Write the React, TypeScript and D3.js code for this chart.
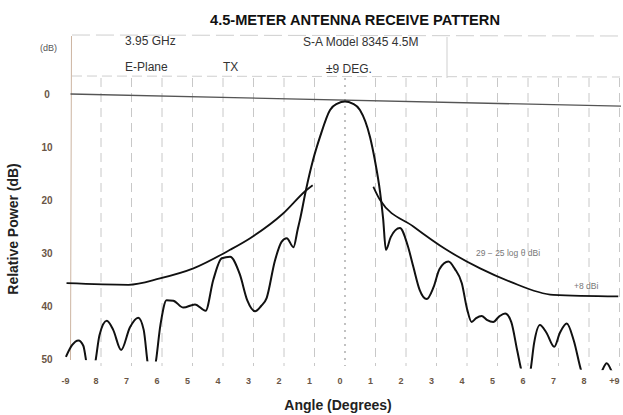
import React from "react";
import * as d3 from "d3";

const W = 623;
const H = 415;

// Angle ticks (degrees) and their printed labels
const angleTicks = [-9, -8, -7, -6, -5, -4, -3, -2, -1, 0, 1, 2, 3, 4, 5, 6, 7, 8, 9];
const angleLabels = ["-9", "8", "7", "6", "5", "4", "3", "2", "1", "0", "1", "2", "3", "4", "5", "6", "7", "8", "+9"];
const dbTicks = [0, 10, 20, 30, 40, 50];

// Measured antenna pattern (angle in degrees, relative power in dB down)
const patternAngle = [
  -9.15, -8.95, -8.74, -8.58, -8.45, -8.33, -8.2, -8.05, -7.81, -7.6, -7.34, -7.05, -6.78, -6.6, -6.45, -6.34,
  -6.23, -6.05, -5.85, -5.63, -5.3, -4.92, -4.57, -4.32, -4.04, -3.77, -3.45, -3.2, -2.95, -2.75, -2.57, -2.3,
  -2.08, -1.91, -1.69, -1.55, -1.48, -1.28, -1.05, -0.82, -0.49, -0.25, 0, 0.25, 0.49, 0.82, 0.98, 1.15, 1.25,
  1.34, 1.5, 1.8, 2.05, 2.24, 2.45, 2.68, 2.9, 3.1, 3.39, 3.6, 3.83, 4.0, 4.15, 4.3, 4.48, 4.65, 4.86, 5.05,
  5.25, 5.45, 5.65, 5.8, 5.94, 6.07, 6.2, 6.39, 6.6, 6.86, 7.05, 7.27, 7.5, 7.76, 8.0, 8.4, 8.58, 8.76, 8.9,
];
const patternDb = [
  49.6, 47.4, 46.5, 47.5, 51.5, 53, 51.0, 45.5, 42.8, 44.5, 48.3, 44.0, 42.2, 44.5, 51.5, 53,
  51.5, 43.5, 38.9, 39.0, 40.3, 39.7, 40.9, 35.1, 31.0, 30.7, 34.0, 39.0, 41.0, 40.0, 38.5, 31.5,
  27.9, 27.2, 28.9, 25.5, 23.8, 18.1, 12.5, 8.1, 3.0, 1.8, 1.4, 1.8, 3.0, 8.1, 12.5, 18.5, 23.5,
  29.4, 27.0, 25.3, 28.5, 32.6, 37.0, 38.7, 36.5, 33.0, 31.6, 33.0, 35.7, 40.5, 43.0, 42.3, 41.9, 42.6, 43.0, 42.0,
  41.4, 43.0, 48.5, 52.5, 54, 52.5, 47.0, 43.6, 45.0, 47.7, 45.0, 43.3, 46.5, 52.5, 55, 52.5, 50.8, 52.5, 54,
];

// Sidelobe envelope (29 - 25 log θ dBi)
const envLeftAngle = [-9.13, -7.1, -6.07, -4.97, -3.77, -3.11, -2.02, -1.28, -1.06];
const envLeftDb = [35.7, 36.0, 34.8, 32.9, 29.4, 27.2, 22.5, 18.2, 17.2];
const envRightAngle = [0.93, 1.15, 2.24, 3.33, 4.43, 5.41, 6.83, 8.96];
const envRightDb = [17.5, 20.0, 25.0, 29.4, 32.9, 35.4, 37.9, 38.2];

// 0 dB reference trace (slightly skewed on the chart paper)
const refAngle = [-9, 9.05];
const refDb = [0.0, 2.3];

const FONT = "'Liberation Sans', Arial, Helvetica, sans-serif";
const TICK_COLOR = "#6a5646";

export default function App() {
  const x = d3.scaleLinear().domain([-9, 9]).range([70.5, 619.5]);
  const y = d3.scaleLinear().domain([0, 50]).range([94, 359]);

  const line = d3
    .line<[number, number]>()
    .x((d) => x(d[0]))
    .y((d) => y(d[1]))
    .curve(d3.curveMonotoneX);
  const straight = d3
    .line<[number, number]>()
    .x((d) => x(d[0]))
    .y((d) => y(d[1]));

  const pattern = patternAngle.map((a, i) => [a, patternDb[i]] as [number, number]);
  const envL = envLeftAngle.map((a, i) => [a, envLeftDb[i]] as [number, number]);
  const envR = envRightAngle.map((a, i) => [a, envRightDb[i]] as [number, number]);
  const ref = refAngle.map((a, i) => [a, refDb[i]] as [number, number]);

  // slanted lower edge of the chart paper
  const clipPts = [
    [x(-9.5), y(-8)],
    [x(9.5), y(-8)],
    [x(9.5), y(52.2)],
    [x(-9.5), y(50.1)],
  ]
    .map((p) => p.join(","))
    .join(" ");

  return (
    <svg width={W} height={H} style={{ position: "absolute", left: 0, top: 0, background: "#fff" }}>
      <defs>
        <clipPath id="paper">
          <polygon points={clipPts} />
        </clipPath>
      </defs>

      {/* Title */}
      <text
        x={210}
        y={25}
        textLength={290}
        lengthAdjust="spacingAndGlyphs"
        fontFamily={FONT}
        fontWeight="bold"
        fontSize={14}
        fill="#111"
      >
        4.5-METER ANTENNA RECEIVE PATTERN
      </text>

      {/* header box lines */}
      <line x1={72} x2={622} y1={35} y2={36} stroke="#cfcfcf" strokeDasharray="18,6" strokeWidth={1} />
      <line x1={72} x2={620} y1={76} y2={77} stroke="#cfcfcf" strokeDasharray="10,5" strokeWidth={1} />
      <line x1={447} x2={447} y1={37} y2={78} stroke="#cfcfcf" strokeWidth={1} />

      {/* header texts */}
      <text x={40} y={51} fontFamily={FONT} fontSize={9} fill="#555">(dB)</text>
      <text x={125} y={45} fontFamily={FONT} fontSize={12} fill="#333">3.95 GHz</text>
      <text x={303} y={46} fontFamily={FONT} fontSize={12} fill="#333">S-A Model 8345 4.5M</text>
      <text x={125} y={71} fontFamily={FONT} fontSize={12} fill="#333">E-Plane</text>
      <text x={223} y={71} fontFamily={FONT} fontSize={12} fill="#333">TX</text>
      <text x={326} y={73} fontFamily={FONT} fontSize={12} fill="#333">±9 DEG.</text>

      {/* vertical grid */}
      {angleTicks.map((t) =>
        t === -9 ? null : (
          <line
            key={"g" + t}
            x1={x(t)}
            x2={x(t)}
            y1={78}
            y2={366}
            stroke={t === 0 ? "#999" : "#c8c8c8"}
            strokeWidth={t === 0 ? 1.2 : 1}
            strokeDasharray={t === 0 ? "2,5" : "9,6"}
          />
        )
      )}
      {/* left paper edge */}
      <line x1={x(-9) + 1} x2={x(-9)} y1={36} y2={360} stroke="#cdb5a2" strokeWidth={1} />

      {/* y tick labels */}
      {dbTicks.map((t) => (
        <text
          key={"y" + t}
          x={47}
          y={y(t)}
          dy="0.35em"
          textAnchor="middle"
          fontFamily={FONT}
          fontWeight="bold"
          fontSize={10}
          fill={TICK_COLOR}
        >
          {t}
        </text>
      ))}

      {/* x tick labels */}
      {angleTicks.map((t, i) => (
        <text
          key={"x" + t}
          x={x(t) - 5}
          y={384}
          textAnchor="middle"
          fontFamily={FONT}
          fontWeight="bold"
          fontSize={9}
          fill={TICK_COLOR}
        >
          {angleLabels[i]}
        </text>
      ))}

      {/* axis titles */}
      <text x={338} y={410} textAnchor="middle" fontFamily={FONT} fontWeight="bold" fontSize={14} fill="#222">
        Angle  (Degrees)
      </text>
      <text
        transform="translate(18,229) rotate(-90)"
        textAnchor="middle"
        fontFamily={FONT}
        fontWeight="bold"
        fontSize={14}
        fill="#222"
      >
        Relative Power (dB)
      </text>

      {/* reference line */}
      <path d={straight(ref) || ""} fill="none" stroke="#555" strokeWidth={1.3} />

      {/* envelope */}
      <path d={line(envL) || ""} fill="none" stroke="#111" strokeWidth={1.8} />
      <path d={line(envR) || ""} fill="none" stroke="#111" strokeWidth={1.8} />

      {/* annotations */}
      <text x={476} y={256} fontFamily={FONT} fontSize={8.5} fill="#777">29 − 25 log θ dBi</text>
      <text x={574} y={289} fontFamily={FONT} fontSize={8.5} fill="#777">+8 dBi</text>

      {/* pattern */}
      <g clipPath="url(#paper)">
        <path d={line(pattern) || ""} fill="none" stroke="#111" strokeWidth={2} strokeLinejoin="round" />
      </g>
    </svg>
  );
}
